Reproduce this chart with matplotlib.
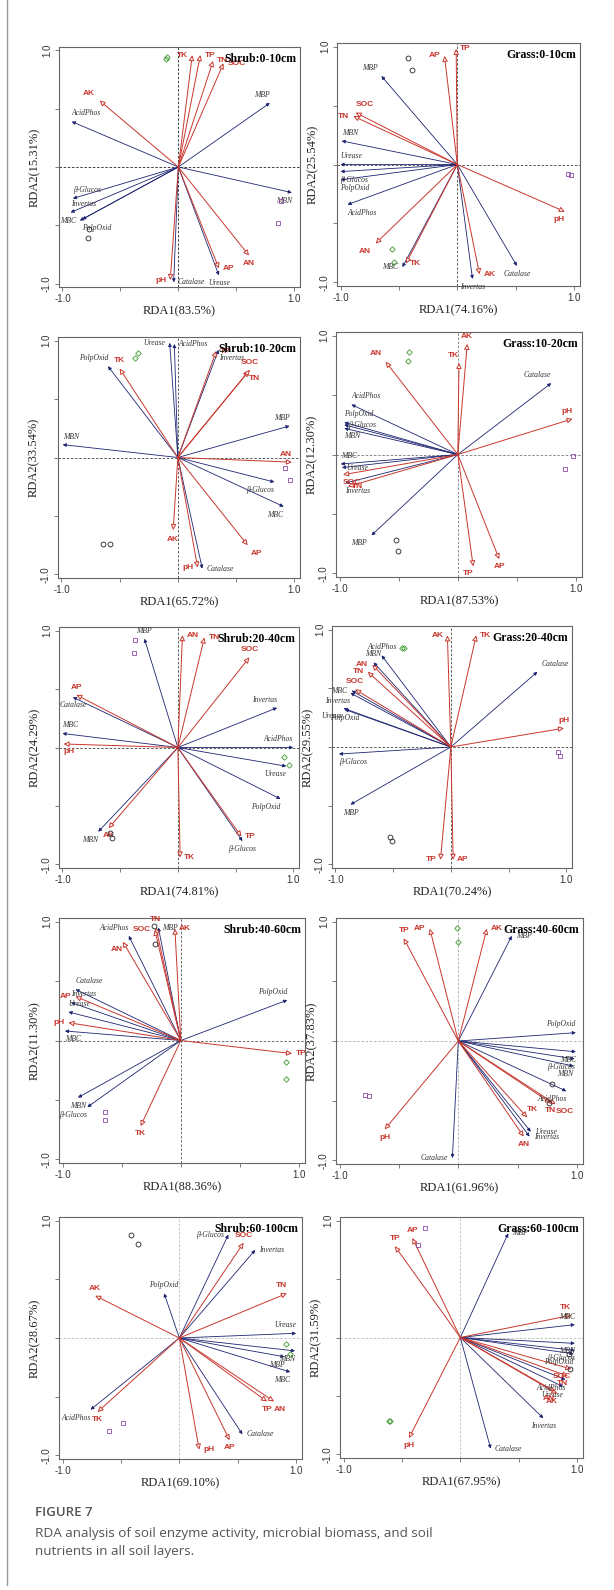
# RDA 이중도표 10개 (관목/초지, 토층별)
import numpy as np
import matplotlib.pyplot as plt
from matplotlib.lines import Line2D

plt.rcParams['font.family'] = ['Liberation Serif', 'DejaVu Serif']

# 토양 양분(빨강)과 효소/미생물(파랑) 변수 이름
nutrients = ['TK', 'TP', 'TN', 'SOC', 'AK', 'AN', 'AP', 'pH']
enzymes = ['MBP', 'AcidPhos', 'MBN', 'β-Glucos', 'Invertas', 'MBC', 'PolpOxid', 'Catalase', 'Urease']

titles = ['Shrub:0-10cm', 'Grass:0-10cm', 'Shrub:10-20cm', 'Grass:10-20cm',
          'Shrub:20-40cm', 'Grass:20-40cm', 'Shrub:40-60cm', 'Grass:40-60cm',
          'Shrub:60-100cm', 'Grass:60-100cm']
rda1 = ['83.5', '74.16', '65.72', '87.53', '74.81', '70.24', '88.36', '61.96', '69.10', '67.95']
rda2 = ['15.31', '25.54', '33.54', '12.30', '24.29', '29.55', '11.30', '37.83', '28.67', '31.59']

# 화살표 끝 좌표 (nutrients / enzymes 순서)
shrub_0_10_nut = [(0.12, 0.96), (0.19, 0.96), (0.30, 0.91), (0.39, 0.89), (-0.68, 0.57), (0.61, -0.76), (0.35, -0.87), (-0.07, -0.97)]
shrub_0_10_enz = [(0.79, 0.55), (-0.92, 0.39), (0.98, -0.22), (-0.91, -0.27), (-0.93, -0.39), (-0.85, -0.46), (-0.83, -0.45), (-0.04, -0.99), (0.35, -0.93)]
grass_0_10_nut = [(-0.44, -0.84), (-0.01, 0.98), (-0.89, 0.41), (-0.87, 0.44), (0.19, -0.93), (-0.70, -0.67), (-0.11, 0.92), (0.92, -0.40)]
grass_0_10_enz = [(-0.65, 0.75), (-0.94, -0.34), (-0.99, 0.20), (-1.0, -0.06), (0.13, -0.97), (-0.47, -0.87), (-1.0, -0.13), (0.51, -0.86), (-1.0, 0.0)]
shrub_10_20_nut = [(-0.50, 0.76), (0.33, 0.91), (0.61, 0.74), (0.62, 0.75), (-0.04, -0.62), (0.98, -0.04), (0.60, -0.75), (0.17, -0.94)]
shrub_10_20_enz = [(0.96, 0.27), (-0.03, 0.97), (-0.99, 0.11), (0.83, -0.21), (0.35, 0.92), (0.91, -0.42), (-0.60, 0.78), (0.21, -0.95), (-0.07, 0.98)]
grass_10_20_nut = [(0.01, 0.77), (0.13, -0.94), (-0.93, -0.27), (-0.97, -0.17), (0.08, 0.93), (-0.61, 0.78), (0.35, -0.88), (0.97, 0.30)]
grass_10_20_enz = [(-0.73, -0.68), (-0.90, 0.42), (-0.96, 0.22), (-0.96, 0.25), (-0.95, -0.24), (-0.99, -0.08), (-0.96, 0.27), (0.79, 0.60), (-0.98, -0.11)]
shrub_20_40_nut = [(0.02, -0.94), (0.55, -0.76), (0.23, 0.94), (0.62, 0.77), (-0.60, -0.69), (0.04, 0.96), (-0.88, 0.45), (-0.99, 0.03)]
shrub_20_40_enz = [(-0.29, 0.93), (1.0, 0.0), (-0.69, -0.72), (0.56, -0.80), (0.86, 0.34), (-1.0, 0.12), (0.89, -0.44), (-0.91, 0.43), (0.94, -0.16)]
grass_20_40_nut = [(0.22, 0.95), (-0.09, -0.96), (-0.72, 0.64), (-0.83, 0.49), (-0.03, 0.95), (-0.68, 0.70), (0.02, -0.96), (0.98, 0.16)]
grass_20_40_enz = [(-0.87, -0.49), (-0.60, 0.78), (-0.67, 0.72), (-0.97, -0.06), (-0.87, 0.46), (-0.86, 0.48), (-0.92, 0.32), (0.75, 0.64), (-0.93, 0.33)]
shrub_40_60_nut = [(-0.34, -0.72), (0.94, -0.11), (-0.21, 0.95), (-0.22, 0.93), (-0.05, 0.94), (-0.49, 0.83), (-0.89, 0.37), (-0.95, 0.15)]
shrub_40_60_enz = [(-0.19, 0.95), (-0.44, 0.88), (-0.87, -0.48), (-0.79, -0.56), (-0.93, 0.32), (-0.98, 0.08), (0.90, 0.34), (-0.89, 0.43), (-0.95, 0.24)]
grass_40_60_nut = [(0.58, -0.64), (-0.46, 0.86), (0.78, -0.52), (0.82, -0.53), (0.24, 0.94), (0.55, -0.80), (-0.24, 0.94), (-0.62, -0.74)]
grass_40_60_enz = [(0.45, 0.88), (0.91, -0.42), (0.97, -0.21), (0.98, -0.15), (0.60, -0.80), (0.99, -0.09), (0.99, 0.07), (-0.05, -0.98), (0.61, -0.76)]
shrub_60_100_nut = [(-0.70, -0.63), (0.75, -0.54), (0.92, 0.38), (0.55, 0.81), (-0.72, 0.36), (0.81, -0.54), (0.43, -0.87), (0.17, -0.95)]
shrub_60_100_enz = [(0.90, -0.16), (-0.76, -0.61), (0.99, -0.11), (0.42, 0.88), (0.65, 0.75), (0.95, -0.29), (-0.13, 0.38), (0.54, -0.82), (1.0, 0.04)]
grass_60_100_nut = [(0.95, 0.19), (-0.56, 0.78), (0.92, -0.33), (0.95, -0.27), (0.83, -0.48), (0.81, -0.46), (-0.41, 0.85), (-0.44, -0.86)]
grass_60_100_enz = [(0.41, 0.89), (0.90, -0.36), (0.98, -0.05), (0.98, -0.11), (0.71, -0.69), (0.98, 0.11), (0.97, -0.14), (0.26, -0.95), (0.88, -0.42)]

# 시료 점수: 원, 마름모, 사각형 각 2개
shrub_0_10_sites = [[(-0.77, -0.53), (-0.78, -0.61)], [(-0.11, 0.93), (-0.10, 0.94)], [(0.89, -0.29), (0.86, -0.48)]]
grass_0_10_sites = [[(-0.42, 0.90), (-0.39, 0.80)], [(-0.56, -0.72), (-0.54, -0.83)], [(0.95, -0.08), (0.97, -0.09)]]
shrub_10_20_sites = [[(-0.64, -0.74), (-0.58, -0.74)], [(-0.37, 0.85), (-0.34, 0.89)], [(0.92, -0.09), (0.96, -0.19)]]
grass_10_20_sites = [[(-0.52, -0.72), (-0.51, -0.81)], [(-0.41, 0.86), (-0.42, 0.79)], [(0.97, -0.01), (0.91, -0.12)]]
shrub_20_40_sites = [[(-0.59, -0.73), (-0.57, -0.77)], [(0.92, -0.08), (0.96, -0.15)], [(-0.37, 0.92), (-0.38, 0.81)]]
grass_20_40_sites = [[(-0.53, -0.77), (-0.51, -0.80)], [(-0.42, 0.84), (-0.41, 0.84)], [(0.93, -0.04), (0.95, -0.08)]]
shrub_40_60_sites = [[(-0.23, 0.96), (-0.22, 0.81)], [(0.89, -0.18), (0.89, -0.32)], [(-0.64, -0.60), (-0.64, -0.67)]]
grass_40_60_sites = [[(0.79, -0.36), (0.76, -0.52)], [(-0.01, 0.95), (0.0, 0.83)], [(-0.79, -0.45), (-0.75, -0.46)]]
shrub_60_100_sites = [[(-0.41, 0.88), (-0.35, 0.80)], [(0.91, -0.05), (0.95, -0.14)], [(-0.48, -0.72), (-0.60, -0.79)]]
grass_60_100_sites = [[(0.93, -0.14), (0.94, -0.27)], [(-0.61, -0.71), (-0.60, -0.71)], [(-0.30, 0.94), (-0.36, 0.79)]]

nut_list = [shrub_0_10_nut, grass_0_10_nut, shrub_10_20_nut, grass_10_20_nut, shrub_20_40_nut,
            grass_20_40_nut, shrub_40_60_nut, grass_40_60_nut, shrub_60_100_nut, grass_60_100_nut]
enz_list = [shrub_0_10_enz, grass_0_10_enz, shrub_10_20_enz, grass_10_20_enz, shrub_20_40_enz,
            grass_20_40_enz, shrub_40_60_enz, grass_40_60_enz, shrub_60_100_enz, grass_60_100_enz]
site_list = [shrub_0_10_sites, grass_0_10_sites, shrub_10_20_sites, grass_10_20_sites, shrub_20_40_sites,
             grass_20_40_sites, shrub_40_60_sites, grass_40_60_sites, shrub_60_100_sites, grass_60_100_sites]

# 축 위치 (픽셀: 왼쪽, 위, 오른쪽, 아래)
W, H = 614, 1590
boxes = [(59, 47, 300, 287), (337, 43, 580, 286),
         (58, 337, 300, 578), (336, 332, 582, 577),
         (59, 627, 299, 868), (332, 626, 572, 868),
         (59, 918, 305, 1163), (336, 918, 583, 1164),
         (59, 1217, 302, 1459), (340, 1217, 583, 1458)]
guide_colors = ['#222222', '#444444', '#444444', '#777777', '#444444',
                '#444444', '#555555', '#aaaaaa', '#bbbbbb', '#bbbbbb']

# 라벨 위치 지정 (패널 번호, 이름) -> 방향
label_side = {
    (0, 'TK'): 'l', (0, 'Catalase'): 'r', (0, 'Urease'): 'b', (0, 'AP'): 'r', (0, 'AN'): 'b',
    (0, 'MBC'): 'l', (0, 'PolpOxid'): 'br', (0, 'Invertas'): 'ar', (0, 'β-Glucos'): 'ar',
    (1, 'TP'): 'r', (1, 'TN'): 'l', (1, 'TK'): 'r', (1, 'Invertas'): 'b', (1, 'Catalase'): 'b',
    (2, 'Invertas'): 'br', (2, 'SOC'): 'a', (2, 'TN'): 'br', (2, 'TK'): 'a', (2, 'PolpOxid'): 'al',
    (2, 'Urease'): 'l', (2, 'AcidPhos'): 'r', (2, 'AN'): 'al', (2, 'pH'): 'l',
    (3, 'AK'): 'a', (3, 'TK'): 'al', (3, 'PolpOxid'): 'ar', (3, 'β-Glucos'): 'r', (3, 'MBN'): 'br',
    (3, 'MBC'): 'ar', (3, 'Urease'): 'r', (3, 'TN'): 'r', (3, 'Invertas'): 'br', (3, 'TP'): 'bl', (3, 'AP'): 'b',
    (4, 'AN'): 'r', (4, 'TN'): 'r', (4, 'SOC'): 'a', (4, 'MBP'): 'a', (4, 'AP'): 'a', (4, 'Catalase'): 'b',
    (4, 'pH'): 'br', (4, 'TP'): 'r', (4, 'β-Glucos'): 'b', (4, 'MBN'): 'bl', (4, 'AK'): 'b',
    (5, 'AcidPhos'): 'a', (5, 'MBN'): 'a', (5, 'AN'): 'l', (5, 'TN'): 'l', (5, 'SOC'): 'a',
    (5, 'MBC'): 'l', (5, 'Invertas'): 'bl', (5, 'Urease'): 'bl', (5, 'PolpOxid'): 'b', (5, 'MBP'): 'b',
    (5, 'pH'): 'a', (5, 'TP'): 'l', (5, 'AP'): 'r',
    (6, 'TN'): 'a', (6, 'SOC'): 'l', (6, 'MBP'): 'r', (6, 'AK'): 'r', (6, 'AcidPhos'): 'al',
    (6, 'AN'): 'bl', (6, 'AP'): 'l', (6, 'pH'): 'l', (6, 'MBC'): 'br', (6, 'TP'): 'r',
    (6, 'MBN'): 'b', (6, 'β-Glucos'): 'bl', (6, 'TK'): 'b',
    (7, 'TP'): 'a', (7, 'pH'): 'b', (7, 'TK'): 'ar', (7, 'TN'): 'b', (7, 'SOC'): 'br', (7, 'AN'): 'b',
    (7, 'Urease'): 'r', (7, 'Invertas'): 'r', (7, 'Catalase'): 'l',
    (8, 'SOC'): 'a', (8, 'β-Glucos'): 'l', (8, 'Invertas'): 'r', (8, 'AK'): 'a', (8, 'PolpOxid'): 'a',
    (8, 'TP'): 'b', (8, 'AN'): 'br', (8, 'AP'): 'b', (8, 'pH'): 'r', (8, 'Catalase'): 'r',
    (8, 'AcidPhos'): 'bl', (8, 'TK'): 'b',
    (9, 'TP'): 'a', (9, 'AP'): 'a', (9, 'MBP'): 'r', (9, 'pH'): 'b', (9, 'Catalase'): 'r', (9, 'Invertas'): 'b',
}

RED = '#c8372d'
BLUE = '#1d2470'
D = 0.035
sides = {'l': (-D, 0, 'right', 'center'), 'r': (D, 0, 'left', 'center'),
         'a': (0, D, 'center', 'bottom'), 'b': (0, -D, 'center', 'top'),
         'al': (0, D, 'right', 'bottom'), 'ar': (0, D, 'left', 'bottom'),
         'bl': (0, -D, 'right', 'top'), 'br': (0, -D, 'left', 'top')}


def put_label(ax, x, y, s, side=None, **kw):
    if side is not None:
        dx, dy, ha, va = sides[side]
        ax.text(x + dx, y + dy, s, ha=ha, va=va, **kw)
        return
    if abs(x) > 0.75:
        ha = 'right' if x > 0 else 'left'
        tx = x
        if y >= -0.02:
            ty, va = y + D, 'bottom'
        else:
            ty, va = y - D, 'top'
    elif abs(y) > 0.8:
        ha = 'left' if x >= 0 else 'right'
        tx, ty, va = x + (D if x >= 0 else -D), y, 'center'
    else:
        r = np.hypot(x, y)
        ux, uy = x / r, y / r
        tx, ty = x + 0.05 * ux, y + 0.05 * uy
        ha = 'left' if ux > 0.3 else ('right' if ux < -0.3 else 'center')
        va = 'bottom' if uy > 0.3 else ('top' if uy < -0.3 else 'center')
    ax.text(tx, ty, s, ha=ha, va=va, **kw)


fig = plt.figure(figsize=(W / 100, H / 100), dpi=100)

for i in range(10):
    l, t, r, b = boxes[i]
    ax = fig.add_axes([l / W, 1 - b / H, (r - l) / W, (b - t) / H])
    ax.set_xlim(-1.03, 1.05)
    ax.set_ylim(-1.03, 1.03)
    ax.axhline(0, color=guide_colors[i], lw=0.6, ls=(0, (3, 2)), zorder=1)
    ax.axvline(0, color=guide_colors[i], lw=0.6, ls=(0, (3, 2)), zorder=1)

    # 파란 화살표 (효소, 미생물량)
    for name, (x, y) in zip(enzymes, enz_list[i]):
        ax.annotate('', xy=(x, y), xytext=(0, 0),
                    arrowprops=dict(arrowstyle='-|>', color=BLUE, lw=0.6,
                                    mutation_scale=5, shrinkA=0, shrinkB=0), zorder=3)
        put_label(ax, x, y, name, label_side.get((i, name)), fontsize=5.5, style='italic',
                  color='#333333', zorder=5)

    # 빨간 화살표 (토양 양분)
    for name, (x, y) in zip(nutrients, nut_list[i]):
        ax.annotate('', xy=(x, y), xytext=(0, 0),
                    arrowprops=dict(arrowstyle='-|>', ec=RED, fc='white', lw=0.7,
                                    mutation_scale=8, shrinkA=0, shrinkB=0), zorder=4)
        put_label(ax, x, y, name, label_side.get((i, name)), fontsize=6, fontweight='bold',
                  color=RED, family=['Liberation Sans', 'DejaVu Sans'], zorder=5)

    # 시료 점
    circ, diam, sq = site_list[i]
    ax.plot([p[0] for p in circ], [p[1] for p in circ], 'o', mfc='none', mec='#222222', ms=3.5, mew=0.6, zorder=6)
    ax.plot([p[0] for p in diam], [p[1] for p in diam], 'D', mfc='none', mec='#3a9a2a', ms=2.8, mew=0.6, zorder=6)
    ax.plot([p[0] for p in sq], [p[1] for p in sq], 's', mfc='none', mec='#8d4aa8', ms=3.5, mew=0.6, zorder=6)

    ax.text(0.985, 0.975, titles[i], transform=ax.transAxes, ha='right', va='top',
            fontsize=8.5, fontweight='bold', color='black', zorder=7)

    ax.set_xticks([-1, -0.5, 0, 0.5, 1])
    ax.set_xticklabels(['-1.0', '', '', '', '1.0'])
    ax.set_yticks([-1, -0.5, 0, 0.5, 1])
    ax.set_yticklabels(['-1.0', '', '', '', '1.0'], rotation=90, va='center')
    for lab in ax.get_xticklabels() + ax.get_yticklabels():
        lab.set_family(['Liberation Sans', 'DejaVu Sans'])
        lab.set_fontsize(7)
        lab.set_color('#333333')
    ax.tick_params(length=3, width=0.6, color='#666666', pad=2)
    for sp in ax.spines.values():
        sp.set_color('#666666')
        sp.set_linewidth(0.8)
    ax.set_xlabel('RDA1(' + rda1[i] + '%)', fontsize=9, color='#222222', labelpad=1)
    ax.set_ylabel('RDA2(' + rda2[i] + '%)', fontsize=9, color='#222222', labelpad=1)

# 왼쪽 테두리 선
fig.add_artist(Line2D([7 / W, 7 / W], [1, 1 - 1585 / H], color='#9a9a9a', lw=1))

cap = ['Open Sans', 'DejaVu Sans']
fig.text(35 / W, 1 - 1512 / H, 'FIGURE 7', family=cap, fontsize=9.5, fontweight='semibold',
         color='#555555', ha='left', va='center')
fig.text(35 / W, 1 - 1533 / H, 'RDA analysis of soil enzyme activity, microbial biomass, and soil',
         family=cap, fontsize=9.7, color='#555555', ha='left', va='center')
fig.text(35 / W, 1 - 1552 / H, 'nutrients in all soil layers.',
         family=cap, fontsize=9.7, color='#555555', ha='left', va='center')

fig.savefig('out.png', dpi=100)
